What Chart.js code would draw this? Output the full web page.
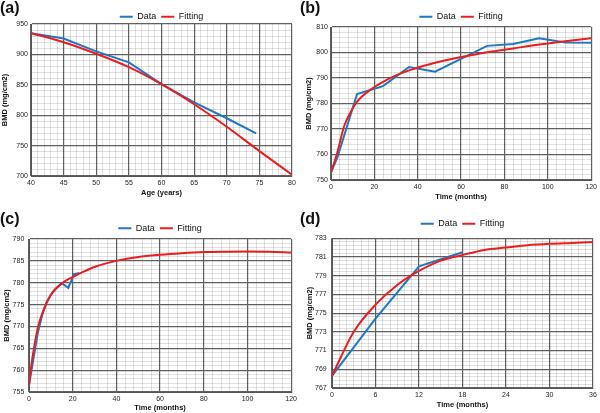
<!DOCTYPE html>
<html>
<head>
<meta charset="utf-8">
<script src="https://cdn.jsdelivr.net/npm/chart.js@4.4.0/dist/chart.umd.min.js"></script>
<style>
  body { margin:0; background:#fff; width:600px; height:413px; position:relative; overflow:hidden;
         font-family:"Liberation Sans", Arial, sans-serif; }
  .panel { position:absolute; }
  .panel canvas { display:block; }
  .tag { position:absolute; left:0; font-weight:bold; font-size:16px; line-height:16px; color:#111; }
</style>
</head>
<body>
<div class="panel" style="left:0;top:0;width:300px;height:206px">
  <canvas id="ca" width="300" height="206"></canvas><div class="tag" style="top:0">(a)</div></div>
<div class="panel" style="left:300px;top:0;width:300px;height:206px">
  <canvas id="cb" width="300" height="206"></canvas><div class="tag" style="top:0">(b)</div></div>
<div class="panel" style="left:0;top:206px;width:300px;height:207px">
  <canvas id="cc" width="300" height="207"></canvas><div class="tag" style="top:5px">(c)</div></div>
<div class="panel" style="left:300px;top:206px;width:300px;height:207px">
  <canvas id="cd" width="300" height="207"></canvas><div class="tag" style="top:5px">(d)</div></div>

<script>
// (a) BMD vs age
const aDataX = [40, 45, 50, 55, 60, 65, 70, 74.5];
const aDataY = [935, 926, 905, 887, 851, 821, 795, 770];
const aFitX = [40, 45, 50, 55, 60, 65, 70, 75, 80];
const aFitY = [935, 920, 901, 879, 851, 818, 781, 741, 702];
// axis: min, max, minor step, major step
const aXAxis = [40, 80, 1, 5];
const aYAxis = [700, 950, 10, 50];

// (b)
const bDataX = [0, 3, 12, 24, 36, 48, 72, 84, 96, 108, 120];
const bDataY = [753, 759, 783.7, 786.8, 794.3, 792.5, 802.6, 803.3, 805.6, 803.9, 803.8];
const bFitX = [0, 3, 6, 9, 12, 18, 24, 30, 36, 48, 60, 72, 84, 96, 108, 120];
const bFitY = [753, 761, 771, 776.5, 780.7, 785.3, 788.5, 791, 793, 796, 798.2, 800.1, 801.6, 803.1, 804.4, 805.6];
const bXAxis = [0, 120, 4, 20];
const bYAxis = [750, 810, 2, 10];

// (c)
const cDataX = [0, 4, 6, 8, 10, 12, 15, 18, 20.5, 23];
const cDataY = [756.5, 768.5, 772.5, 775.5, 777.3, 778.5, 779.9, 778.8, 781.9, 782.2];
const cFitX = [0, 1, 2, 4, 6, 8, 10, 12, 16, 20, 24, 30, 40, 50, 60, 70, 80, 90, 100, 110, 120];
const cFitY = [756.5, 760.8, 764.2, 769.6, 772.9, 775.3, 777.2, 778.5, 780.2, 781.3, 782.3, 783.6, 785, 785.9, 786.4, 786.75, 787, 787.1, 787.15, 787.1, 786.9];
const cXAxis = [0, 120, 4, 20];
const cYAxis = [755, 790, 1, 5];

// (d)
const dDataX = [0, 6, 12, 18];
const dDataY = [768.3, 774.4, 780, 781.5];
const dFitX = [0, 3, 6, 9, 12, 15, 18, 21, 24, 27, 30, 33, 36];
const dFitY = [768.3, 773, 775.9, 778, 779.5, 780.6, 781.2, 781.75, 782, 782.25, 782.4, 782.5, 782.6];
const dXAxis = [0, 36, 1, 6];
const dYAxis = [767, 783, 0.4, 2];

const seriesNames = ['Data', 'Fitting'];
const BLUE = '#1f77c8';
const RED = '#ee1d1d';
const FONT = '"Liberation Sans", Arial, sans-serif';

function pairs(xs, ys) {
  return xs.map((x, i) => ({ x: x, y: ys[i] }));
}

// major lines counted from the axis minimum (panel d has majors on odd values)
function isMajor(v, spec) {
  const r = (v - spec[0]) / spec[3];
  return Math.abs(r - Math.round(r)) < 1e-6;
}

function gridTicks(spec) {
  const n = Math.round((spec[1] - spec[0]) / spec[2]);
  const out = [];
  for (let i = 0; i <= n; i++) out.push({ value: +(spec[0] + i * spec[2]).toFixed(6) });
  return out;
}

function axis(spec, box, horizontal, title) {
  return {
    type: 'linear',
    min: spec[0],
    max: spec[1],
    afterBuildTicks: s => { s.ticks = gridTicks(spec); },
    afterFit: s => { if (horizontal) s.height = box.H; else s.width = box.L; },
    border: { color: '#555', width: 1 },
    grid: {
      drawTicks: false,
      // minor lines are translucent so they don't cut through the dark majors
      color: c => isMajor(c.tick.value, spec) ? '#606060' : 'rgba(0,0,0,0.12)',
      lineWidth: c => isMajor(c.tick.value, spec) ? 1.2 : 1
    },
    ticks: {
      autoSkip: false, maxRotation: 0, minRotation: 0,
      padding: horizontal ? 3 : box.yTickPad,
      color: '#222',
      font: { family: FONT, size: 7 },
      callback: v => isMajor(v, spec) ? String(+v.toFixed(4)) : ''
    },
    title: {
      display: true, text: title, color: '#111',
      font: { family: FONT, size: 7.5, weight: 'bold' },
      padding: horizontal ? { top: 0, bottom: box.xTitlePad } : { top: box.yTitlePad, bottom: 0 }
    }
  };
}

function makeChart(id, dx, dy, fx, fy, xSpec, ySpec, xTitle, box, fitTension) {
  new Chart(document.getElementById(id), {
    type: 'line',
    data: {
      datasets: [
        { label: seriesNames[0], data: pairs(dx, dy), borderColor: BLUE, backgroundColor: BLUE,
          borderWidth: 2, pointRadius: 0, tension: 0, order: 1 },
        { label: seriesNames[1], data: pairs(fx, fy), borderColor: RED, backgroundColor: RED,
          borderWidth: 2, pointRadius: 0, tension: fitTension, cubicInterpolationMode: 'monotone', order: 0 }
      ]
    },
    options: {
      responsive: false,
      animation: false,
      devicePixelRatio: 1,
      layout: { padding: { left: 0, right: box.W - box.R, top: box.legTop, bottom: 0 } },
      plugins: {
        tooltip: { enabled: false },
        legend: {
          position: 'top',
          fullSize: false,
          maxHeight: box.T - box.legTop,
          labels: {
            usePointStyle: true, pointStyle: 'line', pointStyleWidth: 13,
            padding: 5, color: '#111',
            font: { family: FONT, size: 9 },
            sort: (a, b) => a.datasetIndex - b.datasetIndex
          }
        }
      },
      scales: {
        x: axis(xSpec, box, true, xTitle),
        y: axis(ySpec, box, false, 'BMD (mg/cm2)')
      }
    }
  });
}

makeChart('ca', aDataX, aDataY, aFitX, aFitY, aXAxis, aYAxis, 'Age (years)',
  { W: 300, L: 31, R: 292, T: 24, H: 30, legTop: 7.2, yTickPad: 3, yTitlePad: 0.2, xTitlePad: 8.2 }, 0.4);
makeChart('cb', bDataX, bDataY, bFitX, bFitY, bXAxis, bYAxis, 'Time (months)',
  { W: 300, L: 31, R: 295, T: 27, H: 26, legTop: 7.2, yTickPad: 3, yTitlePad: 4.5, xTitlePad: 4.5 }, 0.4);
makeChart('cc', cDataX, cDataY, cFitX, cFitY, cXAxis, cYAxis, 'Time (months)',
  { W: 300, L: 29, R: 292, T: 33, H: 21, legTop: 12.8, yTickPad: 4.7, yTitlePad: 2.5, xTitlePad: 0.5 }, 0.4);
makeChart('cd', dDataX, dDataY, dFitX, dFitY, dXAxis, dYAxis, 'Time (months)',
  { W: 300, L: 32, R: 293, T: 33, H: 25, legTop: 8.2, yTickPad: 5.3, yTitlePad: 5.2, xTitlePad: 3.9 }, 0);
</script>
</body>
</html>
